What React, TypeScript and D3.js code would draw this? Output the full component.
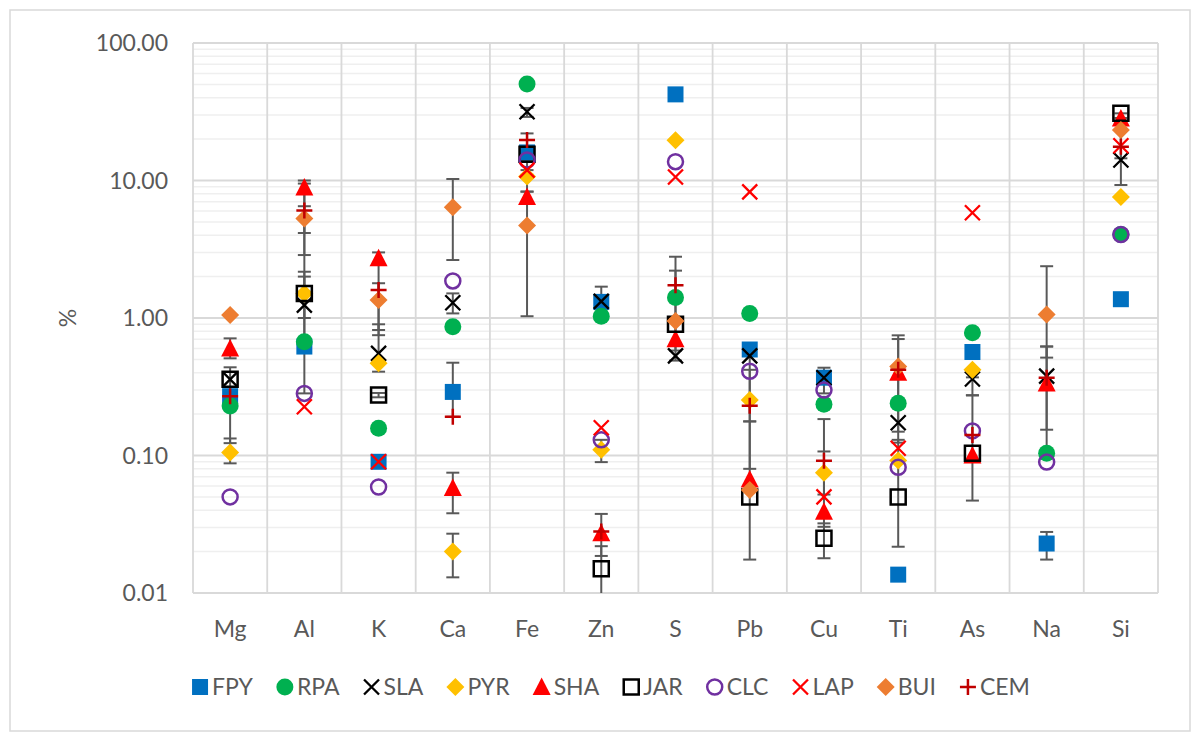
import { useEffect, useRef } from "react"
import * as d3 from "d3"

// elements on the x axis
const elements = ["Mg", "Al", "K", "Ca", "Fe", "Zn", "S", "Pb", "Cu", "Ti", "As", "Na", "Si"]

// content in % per element (null = not reported)
const FPY = [0.27, 0.62, 0.09, 0.29, 16.0, 1.31, 42.3, 0.59, 0.368, 0.0136, 0.566, 0.0229, 1.37]
const RPA = [0.229, 0.673, 0.158, 0.865, 50.4, 1.03, 1.41, 1.08, 0.236, 0.24, 0.78, 0.104, 4.05]
const SLA = [0.358, 1.24, 0.553, 1.29, 31.6, 1.32, 0.53, 0.53, 0.368, 0.173, 0.36, 0.378, 14.1]
const PYR = [0.105, 1.51, 0.468, 0.02, 10.7, 0.11, 19.6, 0.253, 0.075, 0.092, 0.42, null, 7.6]
const SHA = [0.6, 8.9, 2.72, 0.058, 7.6, 0.0272, 0.7, 0.067, 0.039, 0.4, 0.1, 0.334, 28.3]
const JAR = [0.358, 1.51, 0.275, null, 15.5, 0.015, 0.9, 0.05, 0.025, 0.05, 0.104, null, 30.8]
const CLC = [0.05, 0.283, 0.059, 1.86, 14.1, 0.13, 13.7, 0.41, 0.299, 0.082, 0.151, 0.0895, 4.05]
const LAP = [null, 0.226, 0.09, null, 11.9, 0.159, 10.6, 8.26, 0.05, 0.113, 5.83, null, 17.9]
const BUI = [1.05, 5.3, 1.35, 6.4, 4.7, null, 0.95, 0.056, null, 0.443, null, 1.06, 23.3]
const CEM = [0.27, 6.05, 1.6, 0.191, 19.7, 0.028, 1.73, 0.23, 0.0916, 0.42, 0.141, 0.367, 17.6]

// error bars: [element, low, high]
const errorBars: [string, number, number][] = [
  ["Mg", 0.509, 0.711], ["Mg", 0.123, 0.438], ["Mg", 0.0877, 0.133],
  ["Al", 4.15, 10.0], ["Al", 2.87, 6.5], ["Al", 1.0, 9.5], ["Al", 0.283, 2.17], ["Al", 0.62, 2.0],
  ["K", 0.75, 3.0], ["K", 0.818, 1.79], ["K", 0.407, 0.9], ["K", 0.265, 0.285],
  ["Ca", 2.64, 10.25], ["Ca", 1.08, 1.51], ["Ca", 0.191, 0.473], ["Ca", 0.038, 0.075], ["Ca", 0.013, 0.027],
  ["Fe", 29, 33.7], ["Fe", 14.0, 22.0], ["Fe", 11.0, 14.5], ["Fe", 8.3, 11.9], ["Fe", 1.03, 8.3],
  ["Zn", 1.03, 1.69], ["Zn", 0.0895, 0.13], ["Zn", 0.0186, 0.0376], ["Zn", 0.005, 0.0219],
  ["S", 0.58, 2.79], ["S", 0.49, 2.21],
  ["Pb", 0.177, 0.53], ["Pb", 0.08, 0.42], ["Pb", 0.0175, 0.177],
  ["Cu", 0.283, 0.435], ["Cu", 0.052, 0.184], ["Cu", 0.0303, 0.107], ["Cu", 0.0179, 0.0321],
  ["Ti", 0.149, 0.748], ["Ti", 0.124, 0.703], ["Ti", 0.0217, 0.13],
  ["As", 0.047, 0.274], ["As", 0.274, 0.37],
  ["Na", 0.104, 2.38], ["Na", 0.515, 0.621], ["Na", 0.154, 0.62], ["Na", 0.0175, 0.0278],
  ["Si", 9.27, 30.8], ["Si", 14.5, 28.5],
]

const yTicks = [0.01, 0.1, 1, 10, 100]

const series = [
  { name: "FPY", values: FPY, shape: "square", color: "#0070C0" },
  { name: "RPA", values: RPA, shape: "circle", color: "#00B050" },
  { name: "SLA", values: SLA, shape: "x", color: "#000000" },
  { name: "PYR", values: PYR, shape: "diamond", color: "#FFC000" },
  { name: "SHA", values: SHA, shape: "triangle", color: "#FF0000" },
  { name: "JAR", values: JAR, shape: "squareOpen", color: "#000000" },
  { name: "CLC", values: CLC, shape: "circleOpen", color: "#7030A0" },
  { name: "LAP", values: LAP, shape: "x", color: "#FF0000" },
  { name: "BUI", values: BUI, shape: "diamond", color: "#ED7D31" },
  { name: "CEM", values: CEM, shape: "plus", color: "#C00000" },
]

const FONT = "Lato, 'Open Sans', sans-serif"
const TEXT = "#595959"

function markerPath(shape: string) {
  switch (shape) {
    case "square":
      return "M-8,-8h16v16h-16Z"
    case "squareOpen":
      return "M-7.5,-7.5h15v15h-15Z"
    case "diamond":
      return "M0,-9L9,0L0,9L-9,0Z"
    case "triangle":
      return "M0,-9.5L9,8L-9,8Z"
    case "x":
      return "M-7.5,-7.5L7.5,7.5M-7.5,7.5L7.5,-7.5"
    case "plus":
      return "M-8,0L8,0M0,-8L0,8"
    case "circleOpen":
      return d3.arc()({ innerRadius: 0, outerRadius: 7.5, startAngle: 0, endAngle: 2 * Math.PI }) as string
    default:
      return d3.arc()({ innerRadius: 0, outerRadius: 8.5, startAngle: 0, endAngle: 2 * Math.PI }) as string
  }
}

function styleMarker(sel: any, s: any) {
  const filled = s.shape === "square" || s.shape === "diamond" || s.shape === "triangle" || s.shape === "circle"
  if (filled) {
    sel.attr("fill", s.color).attr("stroke", "none")
  } else if (s.shape === "squareOpen" || s.shape === "circleOpen") {
    sel.attr("fill", "none").attr("stroke", s.color).attr("stroke-width", 2.5)
  } else {
    sel.attr("fill", "none").attr("stroke", s.color).attr("stroke-width", s.shape === "plus" ? 2.5 : 2.3)
  }
}

export default function App() {
  const svgRef = useRef<SVGSVGElement | null>(null)

  useEffect(() => {
    if (!svgRef.current) return
    const svg = d3.select(svgRef.current)
    svg.selectAll("*").remove()

    const width = 1201
    const height = 741
    const plot = { left: 193, top: 43, right: 1158, bottom: 593 }

    const x = d3.scaleBand().domain(elements).range([plot.left, plot.right])
    const y = d3.scaleLog().domain([0.01, 100]).range([plot.bottom, plot.top])

    svg.append("rect").attr("width", width).attr("height", height).attr("fill", "#fff")

    // chart border
    svg
      .append("rect")
      .attr("x", 10)
      .attr("y", 10)
      .attr("width", 1180)
      .attr("height", 721)
      .attr("fill", "none")
      .attr("stroke", "#d9d9d9")
      .attr("stroke-width", 1.5)

    svg
      .append("clipPath")
      .attr("id", "plotClip")
      .append("rect")
      .attr("x", plot.left)
      .attr("y", plot.top)
      .attr("width", plot.right - plot.left)
      .attr("height", plot.bottom - plot.top)

    // minor gridlines
    const minor: number[] = []
    for (let e = -2; e < 2; e++) for (let m = 2; m <= 9; m++) minor.push(m * Math.pow(10, e))
    svg
      .append("g")
      .selectAll("line")
      .data(minor)
      .enter()
      .append("line")
      .attr("x1", plot.left)
      .attr("x2", plot.right)
      .attr("y1", (d) => y(d))
      .attr("y2", (d) => y(d))
      .attr("stroke", "#efefef")
      .attr("stroke-width", 1.5)

    // major gridlines
    svg
      .append("g")
      .selectAll("line")
      .data(yTicks)
      .enter()
      .append("line")
      .attr("x1", plot.left)
      .attr("x2", plot.right)
      .attr("y1", (d) => y(d))
      .attr("y2", (d) => y(d))
      .attr("stroke", "#d9d9d9")
      .attr("stroke-width", 1.8)

    // vertical category separators
    const bounds = elements.map((d) => x(d) as number).concat([plot.right])
    svg
      .append("g")
      .selectAll("line")
      .data(bounds)
      .enter()
      .append("line")
      .attr("x1", (d) => d)
      .attr("x2", (d) => d)
      .attr("y1", plot.top)
      .attr("y2", plot.bottom)
      .attr("stroke", "#d9d9d9")
      .attr("stroke-width", 1.8)

    // y tick labels
    svg
      .append("g")
      .selectAll("text")
      .data(yTicks)
      .enter()
      .append("text")
      .attr("x", 168)
      .attr("y", (d) => y(d))
      .attr("dy", "0.35em")
      .attr("text-anchor", "end")
      .attr("font-family", FONT)
      .attr("font-size", 23)
      .attr("fill", TEXT)
      .text((d) => d.toFixed(2))

    // y axis title
    svg
      .append("text")
      .attr("transform", `translate(68,${(plot.top + plot.bottom) / 2}) rotate(-90)`)
      .attr("text-anchor", "middle")
      .attr("dy", "0.35em")
      .attr("font-family", FONT)
      .attr("font-size", 23)
      .attr("fill", TEXT)
      .text("%")

    // x labels
    svg
      .append("g")
      .selectAll("text")
      .data(elements)
      .enter()
      .append("text")
      .attr("x", (d) => (x(d) as number) + x.bandwidth() / 2)
      .attr("y", 629)
      .attr("dy", "0.35em")
      .attr("text-anchor", "middle")
      .attr("font-family", FONT)
      .attr("font-size", 23)
      .attr("fill", TEXT)
      .text((d) => d)

    const cx = (el: string) => (x(el) as number) + x.bandwidth() / 2
    const content = svg.append("g").attr("clip-path", "url(#plotClip)")

    // error bars
    const bars = content.append("g").attr("stroke", "#595959").attr("stroke-width", 2).attr("fill", "none")
    errorBars.forEach(([el, lo, hi]) => {
      const xc = cx(el)
      bars.append("line").attr("x1", xc).attr("x2", xc).attr("y1", y(lo)).attr("y2", y(hi))
      ;[lo, hi].forEach((v) => {
        bars
          .append("line")
          .attr("x1", xc - 6.5)
          .attr("x2", xc + 6.5)
          .attr("y1", y(v))
          .attr("y2", y(v))
      })
    })

    // markers
    series.forEach((s) => {
      const pts = s.values
        .map((v, i) => ({ el: elements[i], v }))
        .filter((d) => d.v !== null) as { el: string; v: number }[]
      const g = content.append("g")
      const m = g
        .selectAll("path")
        .data(pts)
        .enter()
        .append("path")
        .attr("d", markerPath(s.shape))
        .attr("transform", (d) => `translate(${cx(d.el)},${y(d.v)})`)
      styleMarker(m, s)
    })

    // legend
    const legend = svg.append("g")
    let pos = 0
    series.forEach((s) => {
      const item = legend.append("g").attr("transform", `translate(${pos},0)`)
      const mk = item.append("path").attr("d", markerPath(s.shape))
      styleMarker(mk, s)
      const t = item
        .append("text")
        .attr("x", 12)
        .attr("dy", "0.35em")
        .attr("font-family", FONT)
        .attr("font-size", 23)
        .attr("fill", TEXT)
        .text(s.name)
      const w = (t.node() as SVGTextElement).getComputedTextLength()
      pos += 12 + w + 32
    })
    const total = pos - 32 + 8
    legend.attr("transform", `translate(${611 - total / 2 + 8},687)`)
  }, [])

  return (
    <svg
      ref={svgRef}
      width={1201}
      height={741}
      style={{ position: "absolute", left: 0, top: 0, display: "block" }}
    ></svg>
  )
}
